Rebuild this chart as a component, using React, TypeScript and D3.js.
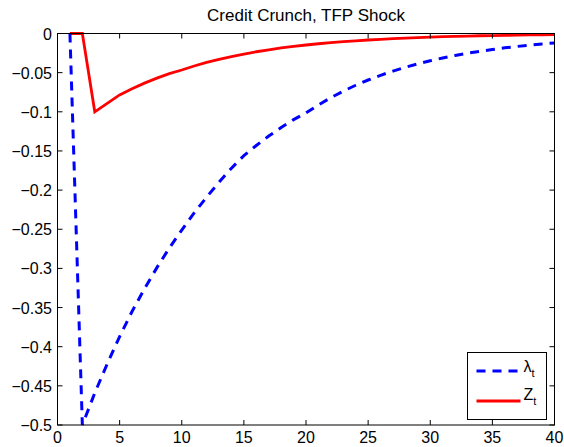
import { scaleLinear, line, range } from 'd3';

const WIDTH = 564;
const HEIGHT = 447;
const MARGIN = { top: 33.5, right: 9.5, bottom: 22, left: 57.5 };
const TICK_LENGTH = 5;

const title = 'Credit Crunch, TFP Shock';
const periods = range(1, 41);
const lambdaValues = [
  0, -0.5, -0.459, -0.422, -0.387, -0.355, -0.326, -0.299, -0.274, -0.251,
  -0.229, -0.209, -0.19, -0.172, -0.156, -0.143, -0.131, -0.12, -0.11, -0.1015,
  -0.0912, -0.0819, -0.0736, -0.0661, -0.0594, -0.0534, -0.048, -0.0431, -0.0387, -0.0348,
  -0.0313, -0.0281, -0.0252, -0.0227, -0.0204, -0.0183, -0.0165, -0.0148, -0.0133, -0.012,
];
const zValues = [
  0, 0, -0.1, -0.0893, -0.0785, -0.0706, -0.0634, -0.057, -0.0513, -0.0466,
  -0.0415, -0.037, -0.033, -0.0294, -0.0262, -0.0233, -0.0208, -0.0185, -0.0165, -0.0147,
  -0.0131, -0.0117, -0.0104, -0.0093, -0.0083, -0.0074, -0.0066, -0.0058, -0.0052, -0.0046,
  -0.0041, -0.0037, -0.0033, -0.0029, -0.0026, -0.0023, -0.0021, -0.0018, -0.0016, -0.0015,
];
const xTicks = [0, 5, 10, 15, 20, 25, 30, 35, 40];
const yTicks = [0, -0.05, -0.1, -0.15, -0.2, -0.25, -0.3, -0.35, -0.4, -0.45, -0.5];

const FONT = '"Liberation Sans", Arial, Helvetica, sans-serif';

const fmt = (v: number) => (v === 0 ? '0' : `\u2212${Math.abs(v)}`);

export default function App() {
  const x0 = MARGIN.left;
  const x1 = WIDTH - MARGIN.right;
  const y0 = MARGIN.top;
  const y1 = HEIGHT - MARGIN.bottom;

  const xScale = scaleLinear().domain([0, 40]).range([x0, x1]);
  const yScale = scaleLinear().domain([-0.5, 0]).range([y1, y0]);

  const lineGen = line<[number, number]>()
    .x(d => xScale(d[0]))
    .y(d => yScale(d[1]));

  const lambdaPath = lineGen(periods.map((t, i) => [t, lambdaValues[i]]));
  const zPath = lineGen(periods.map((t, i) => [t, zValues[i]]));

  // legend box
  const lx = 467.5;
  const ly = 352.5;
  const lw = 79;
  const lh = 67;

  return (
    <svg
      width={WIDTH}
      height={HEIGHT}
      style={{ position: 'absolute', left: 0, top: 0, background: '#fff' }}
      fontFamily={FONT}
    >
      <rect x={0} y={0} width={WIDTH} height={HEIGHT} fill="#fff" />
      <text x={(x0 + x1) / 2} y={20.5} textAnchor="middle" fontSize={17}>
        {title}
      </text>

      <path d={zPath ?? ''} fill="none" stroke="#ff0000" strokeWidth={2.8} />
      <path
        d={lambdaPath ?? ''}
        fill="none"
        stroke="#0000ff"
        strokeWidth={3}
        strokeDasharray="9,7"
      />

      <rect x={x0} y={y0} width={x1 - x0} height={y1 - y0} fill="none" stroke="#000" strokeWidth={1} />

      {xTicks.map(v => (
        <g key={`x${v}`}>
          <line x1={xScale(v)} x2={xScale(v)} y1={y1} y2={y1 - TICK_LENGTH} stroke="#000" />
          <line x1={xScale(v)} x2={xScale(v)} y1={y0} y2={y0 + TICK_LENGTH} stroke="#000" />
          <text x={xScale(v)} y={443} textAnchor="middle" fontSize={16}>
            {v}
          </text>
        </g>
      ))}
      {yTicks.map(v => (
        <g key={`y${v}`}>
          <line x1={x0} x2={x0 + TICK_LENGTH} y1={yScale(v)} y2={yScale(v)} stroke="#000" />
          <line x1={x1} x2={x1 - TICK_LENGTH} y1={yScale(v)} y2={yScale(v)} stroke="#000" />
          <text x={52} y={yScale(v) + 6} textAnchor="end" fontSize={16}>
            {fmt(v)}
          </text>
        </g>
      ))}

      <g>
        <rect x={lx} y={ly} width={lw} height={lh} fill="#fff" stroke="#000" strokeWidth={1} />
        <line
          x1={lx + 9}
          x2={lx + 53}
          y1={ly + 18.5}
          y2={ly + 18.5}
          stroke="#0000ff"
          strokeWidth={3}
          strokeDasharray="9,7"
        />
        <text x={lx + 56} y={ly + 19.5} fontSize={16}>
          λ<tspan fontSize={11} dy={5}>t</tspan>
        </text>
        <line x1={lx + 9} x2={lx + 53} y1={ly + 48.5} y2={ly + 48.5} stroke="#ff0000" strokeWidth={2.8} />
        <text x={lx + 56} y={ly + 47.5} fontSize={16}>
          Z<tspan fontSize={11} dy={5}>t</tspan>
        </text>
      </g>
    </svg>
  );
}
